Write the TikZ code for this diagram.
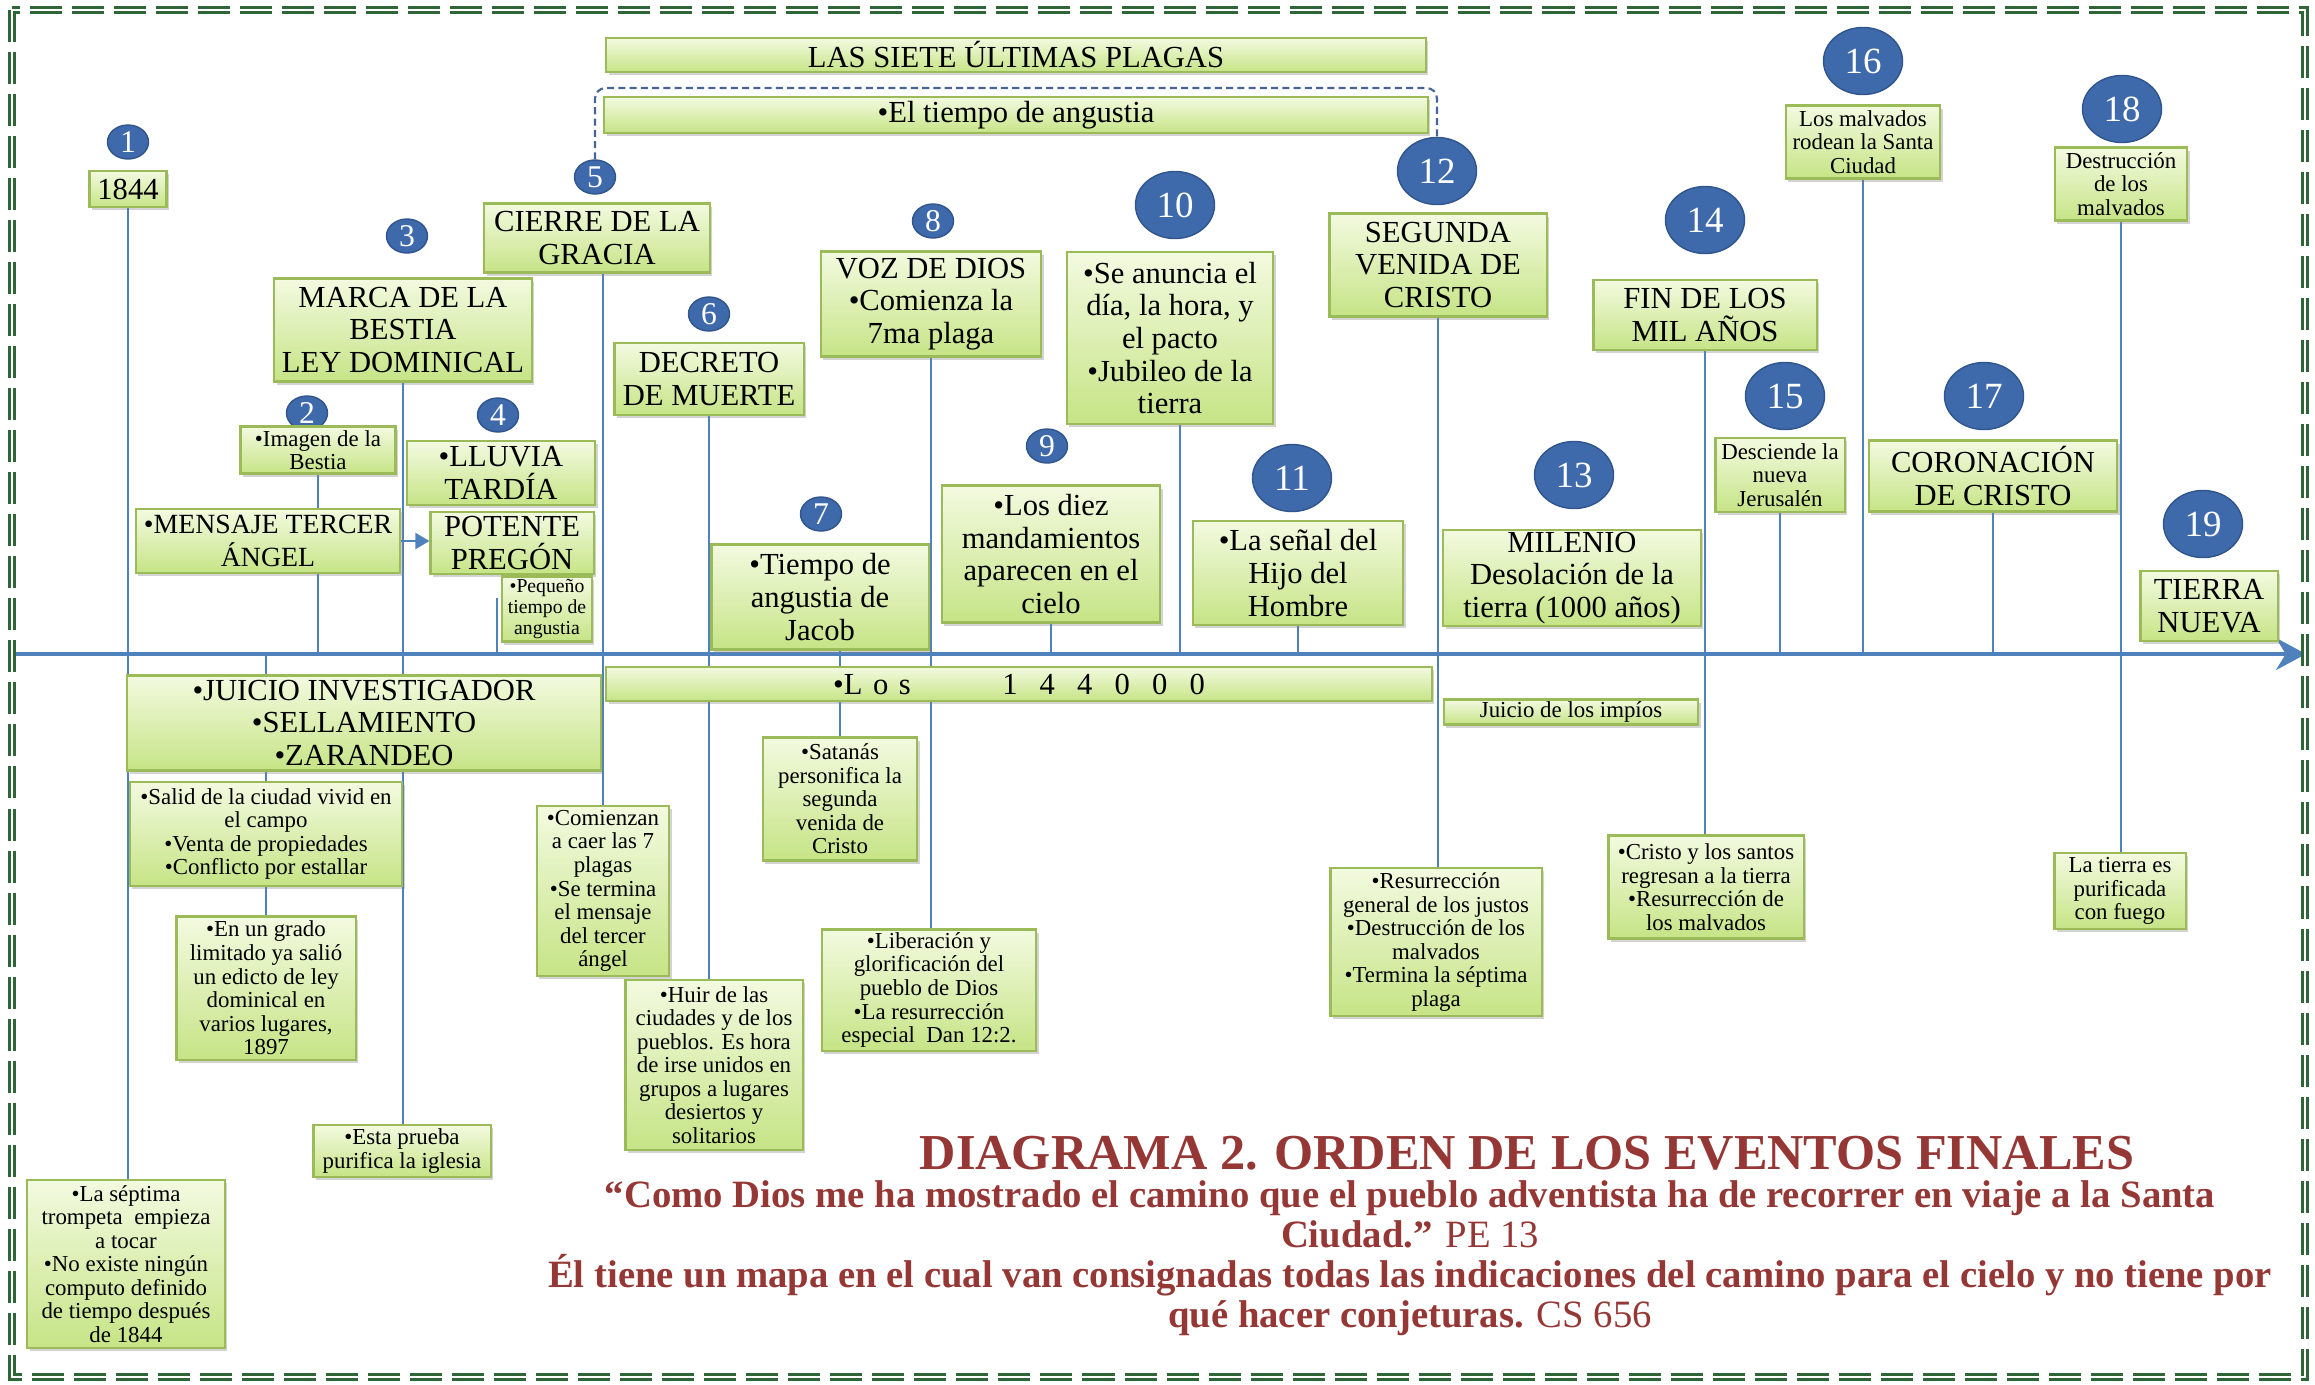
\documentclass[tikz,border=0pt]{standalone}
\usepackage{fontspec}
\setmainfont{Liberation Serif}
\usetikzlibrary{arrows.meta, shapes.geometric, shadows, positioning}
\pgfdeclarelayer{background}
\pgfsetlayers{background,main}

\definecolor{boxedge}{RGB}{155,187,89}
\definecolor{boxtop}{RGB}{243,250,224}
\definecolor{boxbot}{RGB}{198,228,134}
\definecolor{lineblue}{RGB}{79,129,189}
\definecolor{dotblue}{RGB}{62,106,171}
\definecolor{dotedge}{RGB}{48,84,140}
\definecolor{framegreen}{RGB}{46,102,56}
\definecolor{titlered}{RGB}{149,55,53}
\definecolor{brackblue}{RGB}{70,100,150}

\newcommand{\evfont}{\fontsize{8.7}{9.3}\selectfont}
\newcommand{\notefont}{\fontsize{6.5}{6.7}\selectfont}
\newcommand{\weefont}{\fontsize{5.6}{5.9}\selectfont}
\newcommand{\lsp}{\hspace{3pt}}
\newcommand{\dsp}{\hspace{6.3pt}}

\tikzstyle{event} = [rectangle, draw=boxedge, line width=0.6pt, top color=boxtop, bottom color=boxbot, align=center, inner xsep=1pt, inner ysep=0.5pt, font=\evfont, drop shadow={shadow xshift=0.7pt, shadow yshift=-0.9pt, opacity=0.35}]
\tikzstyle{notebox} = [event, font=\notefont]
\tikzstyle{weebox} = [event, font=\weefont]
\tikzstyle{numdot} = [ellipse, fill=dotblue, draw=dotedge, line width=0.4pt, text=white, inner sep=0pt, minimum width=0.41cm, minimum height=0.34cm, font=\fontsize{9}{9}\selectfont]
\tikzstyle{bignum} = [numdot, minimum width=0.79cm, minimum height=0.67cm, font=\fontsize{10.5}{10.5}\selectfont]
\tikzstyle{link} = [draw=lineblue, line width=0.6pt]
\tikzstyle{timeaxis} = [draw=lineblue, line width=1pt, -{Stealth[length=0.3cm, width=0.32cm]}]
\tikzstyle{bracket} = [draw=brackblue, line width=0.6pt, dash pattern=on 2pt off 1.2pt, rounded corners=3pt]
\tikzstyle{framebox} = [draw=framegreen, line width=0.75pt, double=white, double distance=0.75pt, dash pattern=on 0.32cm off 0.1cm]
\tikzstyle{titletxt} = [text=titlered, inner sep=0pt, font=\fontsize{14.3}{15}\selectfont\bfseries]
\tikzstyle{quotetxt} = [text=titlered, inner sep=0pt, align=center, font=\fontsize{11}{11.4}\selectfont\bfseries]

\begin{document}
\begin{tikzpicture}[x=0.01cm, y=-0.01cm]
\useasboundingbox (0,0) rectangle (2315,1384);
\draw[framebox] (12,10) rectangle (2305,1377);

% numbered markers
\node[numdot] (n1) at (128,142) {1};
\node[numdot] (n2) at (307,413) {2};
\node[numdot] (n3) at (407,236) {3};
\node[numdot] (n4) at (498,415) {4};
\node[numdot] (n5) at (595,177) {5};
\node[numdot] (n6) at (709,314) {6};
\node[numdot] (n7) at (821,514) {7};
\node[numdot] (n8) at (933,221) {8};
\node[numdot] (n9) at (1047,446) {9};
\node[bignum] (n10) at (1175,205) {10};
\node[bignum] (n11) at (1292,478) {11};
\node[bignum] (n12) at (1437,171) {12};
\node[bignum] (n13) at (1574,475) {13};
\node[bignum] (n14) at (1705,220) {14};
\node[bignum] (n15) at (1785,396) {15};
\node[bignum] (n16) at (1863,61) {16};
\node[bignum] (n17) at (1984,396) {17};
\node[bignum] (n18) at (2122,109) {18};
\node[bignum] (n19) at (2203,524) {19};

% events above the line
\node[event, minimum width=8.19cm, minimum height=0.34cm] (plagas) at (1016,55) {LAS SIETE ÚLTIMAS PLAGAS};
\node[event, minimum width=8.23cm, minimum height=0.36cm] (angustia) at (1016,115) {•El tiempo de angustia};
\node[event, minimum width=0.77cm, minimum height=0.36cm] (y1844) at (128,189) {1844};
\node[event, minimum width=2.25cm, minimum height=0.69cm] (cierre) at (597,238) {CIERRE DE LA\\GRACIA};
\node[event, minimum width=2.57cm, minimum height=1.03cm] (marca) at (403,330) {MARCA DE LA\\BESTIA\\LEY DOMINICAL};
\node[event, minimum width=1.89cm, minimum height=0.72cm] (decreto) at (709,379) {DECRETO\\DE MUERTE};
\node[event, minimum width=2.20cm, minimum height=1.05cm] (vozdios) at (931,304) {VOZ DE DIOS\\•Comienza la\\7ma plaga};
\node[event, minimum width=2.06cm, minimum height=1.72cm] (anuncia) at (1170,338) {•Se anuncia el\\día, la hora, y\\el pacto\\•Jubileo de la\\tierra};
\node[event, minimum width=2.17cm, minimum height=1.03cm] (segunda) at (1438,265) {SEGUNDA\\VENIDA DE\\CRISTO};
\node[event, minimum width=2.23cm, minimum height=0.70cm] (finmil) at (1705,315) {FIN DE LOS\\MIL AÑOS};
\node[notebox, minimum width=1.54cm, minimum height=0.73cm] (rodean) at (1863,142) {Los malvados\\rodean la Santa\\Ciudad};
\node[notebox, minimum width=1.32cm, minimum height=0.73cm] (destruc) at (2121,184) {Destrucción\\de los\\malvados};
\node[notebox, minimum width=1.55cm, minimum height=0.47cm] (imagen) at (318,450) {•Imagen de la\\Bestia};
\node[event, minimum width=1.88cm, minimum height=0.64cm] (lluvia) at (501,473) {•LLUVIA\\TARDÍA};
\node[event, minimum width=2.64cm, minimum height=0.64cm, font=\fontsize{7.9}{9.3}\selectfont] (mensaje) at (268,541) {•MENSAJE TERCER\\ÁNGEL};
\node[event, minimum width=1.63cm, minimum height=0.62cm] (potente) at (512,543) {POTENTE\\PREGÓN};
\node[weebox, minimum width=0.90cm, minimum height=0.65cm] (pequeno) at (547,609) {•Pequeño\\tiempo de\\angustia};
\node[event, minimum width=2.17cm, minimum height=1.05cm] (jacob) at (820,597) {•Tiempo de\\angustia de\\Jacob};
\node[event, minimum width=2.18cm, minimum height=1.37cm] (diez) at (1051,554) {•Los diez\\mandamientos\\aparecen en el\\cielo};
\node[event, minimum width=2.10cm, minimum height=1.04cm] (senal) at (1298,573) {•La señal del\\Hijo del\\Hombre};
\node[event, minimum width=2.57cm, minimum height=0.96cm] (milenio) at (1572,578) {MILENIO\\Desolación de la\\tierra (1000 años)};
\node[notebox, minimum width=1.29cm, minimum height=0.74cm] (desciende) at (1780,475) {Desciende la\\nueva\\Jerusalén};
\node[event, minimum width=2.48cm, minimum height=0.71cm] (corona) at (1993,476) {CORONACIÓN\\DE CRISTO};
\node[event, minimum width=1.37cm, minimum height=0.70cm] (nueva) at (2209,606) {TIERRA\\NUEVA};

% events below the line
\node[event, minimum width=4.73cm, minimum height=0.95cm] (juicio) at (364,723) {•JUICIO INVESTIGADOR\\•SELLAMIENTO\\•ZARANDEO};
\node[event, minimum width=8.25cm, minimum height=0.34cm] (mil144) at (1019,684) {•L\lsp o\lsp s\hspace{26pt}1\dsp 4\dsp 4\dsp 0\dsp 0\dsp 0};
\node[notebox, minimum width=2.54cm, minimum height=0.25cm] (impios) at (1571,712) {Juicio de los impíos};
\node[notebox, minimum width=2.72cm, minimum height=1.04cm] (salid) at (266,834) {•Salid de la ciudad vivid en\\el campo\\•Venta de propiedades\\•Conflicto por estallar};
\node[notebox, minimum width=1.79cm, minimum height=1.43cm] (grado) at (266,988) {•En un grado\\limitado ya salió\\un edicto de ley\\dominical en\\varios lugares,\\1897};
\node[notebox, minimum width=1.77cm, minimum height=0.52cm] (prueba) at (402,1151) {•Esta prueba\\purifica la iglesia};
\node[notebox, minimum width=1.97cm, minimum height=1.68cm] (septima) at (126,1264) {•La séptima\\trompeta\ \ empieza\\a tocar\\•No existe ningún\\computo definido\\de tiempo después\\de 1844};
\node[notebox, minimum width=1.32cm, minimum height=1.70cm] (comienzan) at (603,891) {•Comienzan\\a caer las 7\\plagas\\•Se termina\\el mensaje\\del tercer\\ángel};
\node[notebox, minimum width=1.77cm, minimum height=1.70cm] (huir) at (714,1065) {•Huir de las\\ciudades y de los\\pueblos. Es hora\\de irse unidos en\\grupos a lugares\\desiertos y\\solitarios};
\node[notebox, minimum width=1.54cm, minimum height=1.23cm] (satanas) at (840,799) {•Satanás\\personifica la\\segunda\\venida de\\Cristo};
\node[notebox, minimum width=2.14cm, minimum height=1.21cm] (liberacion) at (929,990) {•Liberación y\\glorificación del\\pueblo de Dios\\•La resurrección\\especial\ \ Dan 12:2.};
\node[notebox, minimum width=2.11cm, minimum height=1.48cm] (resurrec) at (1436,942) {•Resurrección\\general de los justos\\•Destrucción de los\\malvados\\•Termina la séptima\\plaga};
\node[notebox, minimum width=1.95cm, minimum height=1.03cm] (regresan) at (1706,887) {•Cristo y los santos\\regresan a la tierra\\•Resurrección de\\los malvados};
\node[notebox, minimum width=1.31cm, minimum height=0.76cm] (purifica) at (2120,891) {La tierra es\\purificada\\con fuego};

% title and quotation
\node[titletxt] (titulo) at (1527,1153) {DIAGRAMA 2. ORDEN DE LOS EVENTOS FINALES};
\node[quotetxt] (cita) at (1410,1258) {“Como Dios me ha mostrado el camino que el pueblo adventista ha de recorrer en viaje a la Santa\\Ciudad.” {\mdseries PE 13}\\Él tiene un mapa en el cual van consignadas todas las indicaciones del camino para el cielo y no tiene por\\qué hacer conjeturas. {\mdseries CS 656}};

% timeline and connectors
\coordinate (axisL) at (15,654);
\coordinate (axisR) at (2306,654);
\coordinate (tick) at (497,598);
\coordinate (brk) at (1000,88);
\draw[bracket] (n5.north) |- (brk) -| (n12.north);
\draw[link, -{Triangle[length=0.14cm, width=0.16cm]}] (mensaje.east) -- (mensaje.east -| potente.west);
\begin{pgfonlayer}{background}
\draw[timeaxis] (axisL) -- (axisR);
\draw[link] (y1844.south) -- (y1844.south |- septima.north);
\draw[link] (imagen.south) -- (imagen.south |- axisL);
\draw[link] (salid.north |- axisL) -- (grado.north);
\draw[link] (marca.south) -- (marca.south |- prueba.north);
\draw[link] (tick) -- (tick |- axisL);
\draw[link] (comienzan.north |- cierre.south) -- (comienzan.north);
\draw[link] (decreto.south) -- (decreto.south |- huir.north);
\draw[link] (satanas.north |- jacob.south) -- (satanas.north);
\draw[link] (vozdios.south) -- (vozdios.south |- liberacion.north);
\draw[link] (diez.south) -- (diez.south |- axisL);
\draw[link] ([xshift=1mm]anuncia.south) -- ([xshift=1mm]anuncia.south |- axisL);
\draw[link] (senal.south) -- (senal.south |- axisL);
\draw[link] (segunda.south) -- (segunda.south |- resurrec.north);
\draw[link] (finmil.south) -- (finmil.south |- regresan.north);
\draw[link] (desciende.south) -- (desciende.south |- axisL);
\draw[link] (rodean.south) -- (rodean.south |- axisL);
\draw[link] (corona.south) -- (corona.south |- axisL);
\draw[link] (destruc.south) -- (destruc.south |- purifica.north);
\end{pgfonlayer}
\end{tikzpicture}
\end{document}
